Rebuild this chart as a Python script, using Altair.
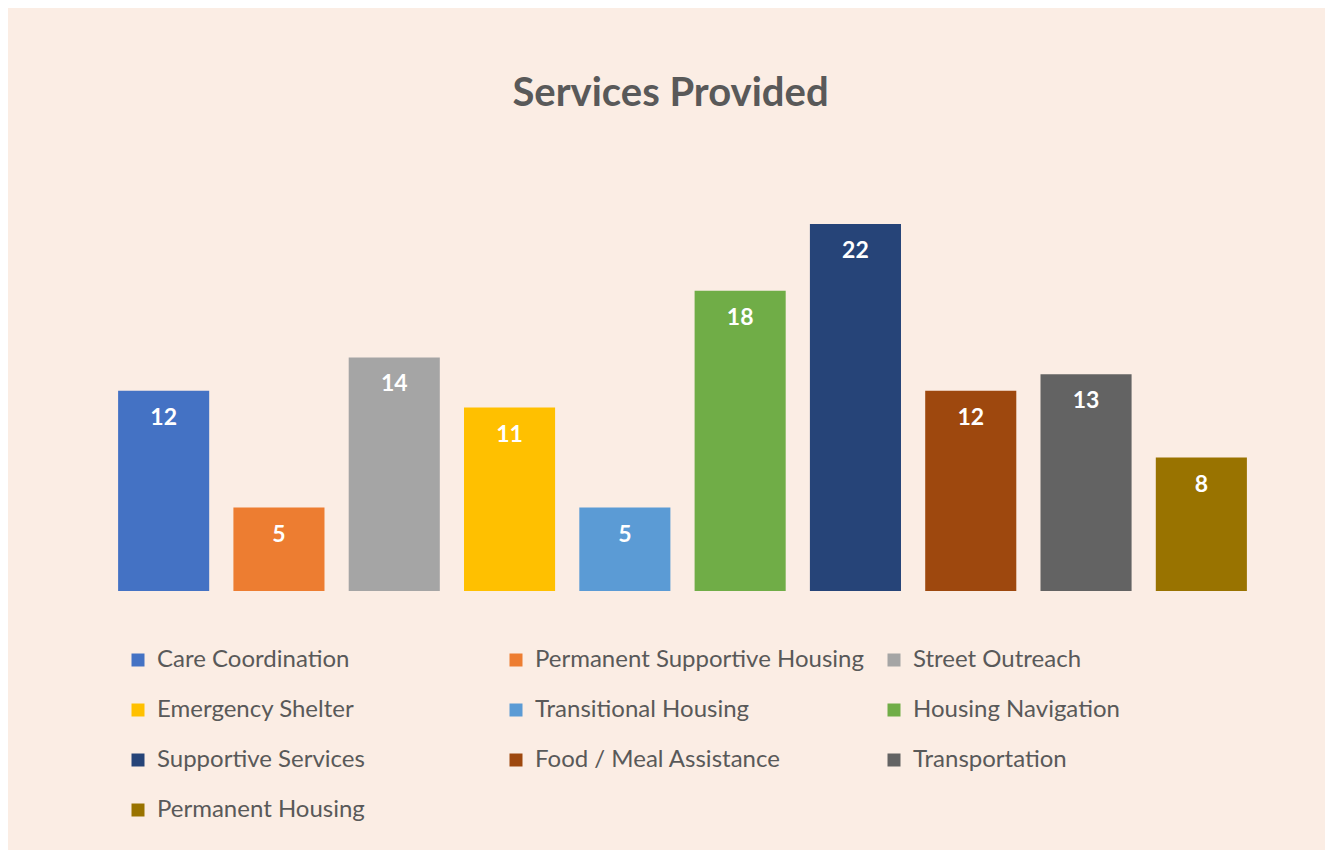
import altair as alt
import pandas as pd

categories = [
    "Care Coordination", "Permanent Supportive Housing", "Street Outreach",
    "Emergency Shelter", "Transitional Housing", "Housing Navigation",
    "Supportive Services", "Food / Meal Assistance", "Transportation",
    "Permanent Housing",
]
values = [12, 5, 14, 11, 5, 18, 22, 12, 13, 8]
colors = ["#4472C4", "#ED7D31", "#A5A5A5", "#FFC000", "#5B9BD5",
          "#70AD47", "#264478", "#9E480E", "#636363", "#997300"]

df = pd.DataFrame({"Service": categories, "Count": values})

FONT = "Lato"
BG = "#FBEDE4"

x = alt.X("Service:N", sort=categories, axis=None,
          scale=alt.Scale(paddingInner=0.21, paddingOuter=0.105))
y = alt.Y("Count:Q", axis=None, scale=alt.Scale(domain=[0, 22], nice=False))

bars = alt.Chart(df).mark_bar().encode(
    x=x, y=y,
    color=alt.Color(
        "Service:N", sort=categories,
        scale=alt.Scale(domain=categories, range=colors),
        legend=alt.Legend(
            title=None, orient="none", legendX=20, legendY=424,
            direction="horizontal",
            columns=3, gridAlign="all", columnPadding=18, rowPadding=26,
            symbolType="square", symbolSize=169, symbolStrokeWidth=0,
            symbolOpacity=1, labelFont=FONT, labelFontSize=24,
            labelColor="#595959", labelOffset=7, labelLimit=500,
        ),
    ),
)

labels = alt.Chart(df).mark_text(
    baseline="middle", dy=27, font=FONT, fontSize=23, fontWeight="bold",
    color="white",
).encode(x=x, y=y, text="Count:Q")

chart = (bars + labels).properties(
    width=1153, height=367,
    background=BG,
    padding={"left": 98, "top": 216, "right": 66, "bottom": 259},
    autosize=alt.AutoSizeParams(type="none"),
    title=alt.TitleParams(
        "Services Provided", font=FONT, fontSize=40, fontWeight="bold",
        color="#595959", anchor="middle", dx=-12, offset=110,
    ),
).configure_view(stroke=None)

chart.save("out.html", embed_options={"renderer": "svg", "actions": False})
